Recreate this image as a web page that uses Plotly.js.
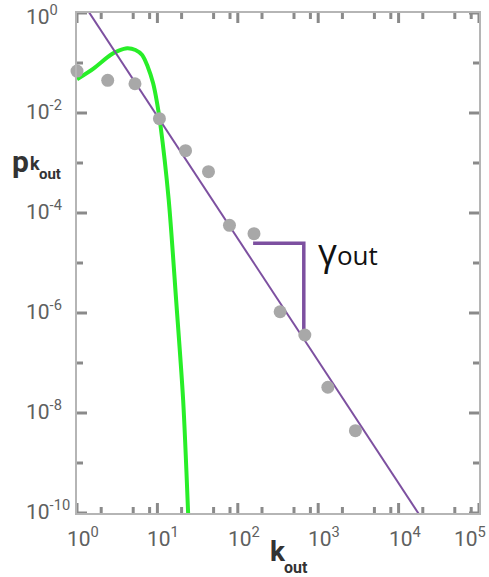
<!DOCTYPE html>
<html>
<head>
<meta charset="utf-8">
<script src="https://cdn.plot.ly/plotly-3.0.1.min.js"></script>
<style>html,body{margin:0;padding:0;background:#fff;}#chart{width:489px;height:577px;}</style>
</head>
<body>
<div id="chart"></div>
<script>
// Empirical out-degree distribution (gray dots)
const degreeK = [1, 2.41, 5.26, 10.6, 22.4, 43.2, 78.8, 159, 336, 682, 1318, 2902];
const degreeP = [0.069, 0.045, 0.0385, 0.00769, 1.76e-3, 6.7e-4, 5.68e-5, 3.86e-5, 1.06e-6, 3.63e-7, 3.27e-8, 4.43e-9];

// Poisson-like curve (green)
const poissonK = [1, 1.618, 2.609, 3.308, 4.207, 5.335, 6.461, 7.586, 8.85, 9.93, 10.91, 13.83, 17.1, 20.9, 24.1];
const poissonP = [0.0472, 0.0783, 0.1445, 0.1762, 0.1968, 0.182, 0.1445, 0.0843, 0.0393, 0.0156, 5.75e-3, 1.82e-4, 1.82e-6, 1.82e-8, 1e-10];

// Power-law fit line (purple)
const fitK = [1, 1e5];
const fitP = [2.4, 1.41e-12];

// Slope bracket
const bracketK = [155, 662, 662];
const bracketP = [2.48e-5, 2.48e-5, 4.2e-7];

// Ticks
const xMajor = [1, 10, 100, 1000, 10000, 100000];
const xMajorExp = [0, 1, 2, 3, 4, 5];
const xMinor = [2, 5, 8, 20, 50, 80, 200, 500, 800, 2000, 5000, 8000, 20000, 50000, 80000];
const yMajor = [1, 1e-2, 1e-4, 1e-6, 1e-8, 1e-10];
const yMajorExp = [0, -2, -4, -6, -8, -10];
const yMinor = [1e-1, 1e-3, 1e-5, 1e-7, 1e-9];

const purple = 'rgb(125,80,160)';
const W = 489, H = 577, L = 77, R = 10, T = 13, B = 64;
const PW = W - L - R, PH = H - T - B;
const px = v => (v - L) / PW;
const py = v => (H - B - v) / PH;

const tickFont = {family: 'Roboto, "DejaVu Sans", sans-serif', size: 21, color: '#606060'};
const titleFont = (s) => ({family: 'Roboto, "DejaVu Sans", sans-serif', size: s, color: '#333'});

const traces = [
  {x: poissonK, y: poissonP, mode: 'lines', line: {color: 'rgb(40,238,40)', width: 4, shape: 'spline', smoothing: 0.8}, hoverinfo: 'skip'},
  {x: fitK, y: fitP, mode: 'lines', line: {color: purple, width: 2}, hoverinfo: 'skip'},
  {x: bracketK, y: bracketP, mode: 'lines', line: {color: purple, width: 3.5}, hoverinfo: 'skip'},
  {x: degreeK, y: degreeP, mode: 'markers', marker: {color: '#a8a8a8', size: 13}, cliponaxis: false}
];

// tick marks (inside, mirrored on all four sides)
const shapes = [];
const tickLine = {color: '#8a8a8a', width: 3};
function addXTick(v, len) {
  shapes.push({type: 'line', xref: 'x', yref: 'paper', ysizemode: 'pixel', yanchor: 0, x0: v, x1: v, y0: 0, y1: len, line: tickLine, layer: 'above'});
  shapes.push({type: 'line', xref: 'x', yref: 'paper', ysizemode: 'pixel', yanchor: 1, x0: v, x1: v, y0: 0, y1: -len, line: tickLine, layer: 'above'});
}
function addYTick(v, len) {
  shapes.push({type: 'line', xref: 'paper', yref: 'y', xsizemode: 'pixel', xanchor: 0, y0: v, y1: v, x0: 0, x1: len, line: tickLine, layer: 'above'});
  shapes.push({type: 'line', xref: 'paper', yref: 'y', xsizemode: 'pixel', xanchor: 1, y0: v, y1: v, x0: 0, x1: -len, line: tickLine, layer: 'above'});
}
xMajor.forEach(v => addXTick(v, 10));
xMinor.forEach(v => addXTick(v, 6));
yMajor.forEach(v => addYTick(v, 10));
yMinor.forEach(v => addYTick(v, 6));

const annotations = [];
xMajorExp.forEach((e, i) => {
  const last = i === xMajorExp.length - 1;
  annotations.push({xref: 'x', yref: 'paper', x: e, y: 0, xanchor: last ? 'right' : 'left', yanchor: 'top',
    xshift: last ? 9 : -12, yshift: -8, showarrow: false, text: '10<sup>' + e + '</sup>', font: tickFont});
});
yMajorExp.forEach((e, i) => {
  annotations.push({xref: 'paper', yref: 'y', x: px(24), y: e, xanchor: 'left', yanchor: 'middle',
    yshift: i === 0 ? -2 : 3, showarrow: false, text: '10<sup>' + e + '</sup>', font: tickFont});
});
// x title k_out
annotations.push({xref: 'paper', yref: 'paper', x: px(268), y: py(570), xanchor: 'left', yanchor: 'bottom',
  showarrow: false, text: '<b>k</b>', font: titleFont(28)});
annotations.push({xref: 'paper', yref: 'paper', x: px(282), y: py(579), xanchor: 'left', yanchor: 'bottom',
  showarrow: false, text: '<b>out</b>', font: titleFont(16)});
// y title p_k_out
annotations.push({xref: 'paper', yref: 'paper', x: px(10), y: py(181), xanchor: 'left', yanchor: 'bottom',
  showarrow: false, text: '<b>p</b>', font: titleFont(30)});
annotations.push({xref: 'paper', yref: 'paper', x: px(28), y: py(176), xanchor: 'left', yanchor: 'bottom',
  showarrow: false, text: '<b>k</b>', font: titleFont(18)});
annotations.push({xref: 'paper', yref: 'paper', x: px(37), y: py(185), xanchor: 'left', yanchor: 'bottom',
  showarrow: false, text: '<b>out</b>', font: titleFont(15)});
// slope label
annotations.push({xref: 'paper', yref: 'paper', x: px(316), y: py(278), xanchor: 'left', yanchor: 'bottom',
  showarrow: false, text: '<span style="font-size:37px">γ</span>out', font: {family: '"Open Sans", sans-serif', size: 26, color: '#111'}});

const axisCommon = {
  type: 'log', ticks: '', showline: true, linecolor: '#b5b5b5', linewidth: 2, mirror: true,
  showgrid: false, zeroline: false, showticklabels: false
};

const layout = {
  width: W, height: H,
  margin: {l: L, r: R, t: T, b: B},
  paper_bgcolor: '#fff', plot_bgcolor: '#fff',
  showlegend: false,
  xaxis: Object.assign({}, axisCommon, {range: [0, 5]}),
  yaxis: Object.assign({}, axisCommon, {range: [-10, 0]}),
  shapes: shapes,
  annotations: annotations
};

Plotly.newPlot('chart', traces, layout, {staticPlot: true, displayModeBar: false});
</script>
</body>
</html>
